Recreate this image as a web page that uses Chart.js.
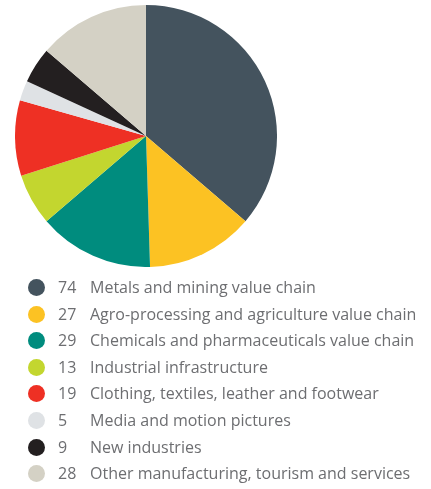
<!DOCTYPE html>
<html>
<head>
<meta charset="utf-8">
<script src="https://cdn.jsdelivr.net/npm/chart.js@4"></script>
<style>
  html, body { margin: 0; padding: 0; background: #fff; }
  #wrap { position: relative; width: 431px; height: 489px; overflow: hidden; }
  #pieBox { position: absolute; left: 15px; top: 5px; width: 262px; height: 262px; }
  #legend { position: absolute; left: 0; top: 0; width: 431px; height: 489px; }
  .row { position: absolute; left: 0; height: 20px; font-family: "Open Sans", sans-serif; font-size: 16px; color: #6d6e71; white-space: nowrap; }
  .dot { position: absolute; left: 28px; top: 2px; width: 17px; height: 17px; border-radius: 50%; }
  .num { position: absolute; left: 58px; top: 0; line-height: 20px; }
  .lbl { position: absolute; left: 90px; top: 0; line-height: 20px; }
</style>
</head>
<body>
<div id="wrap">
  <div id="pieBox"><canvas id="pieChart"></canvas></div>
  <div id="legend"></div>
</div>
<script>
// sectors, counts and colours
const sectors = [
  "Metals and mining value chain",
  "Agro-processing and agriculture value chain",
  "Chemicals and pharmaceuticals value chain",
  "Industrial infrastructure",
  "Clothing, textiles, leather and footwear",
  "Media and motion pictures",
  "New industries",
  "Other manufacturing, tourism and services",
];
const counts = [74, 27, 29, 13, 19, 5, 9, 28];
const colours = ["#44535e", "#fcc223", "#008c7e", "#c3d62f", "#ee3024", "#dfe2e5", "#231f20", "#d4d1c5"];

// ================= PIE =================
new Chart(document.getElementById("pieChart"), {
  type: "pie",
  data: {
    labels: sectors,
    datasets: [
      {
        data: counts,
        backgroundColor: colours,
        borderWidth: 0,
      },
    ],
  },
  options: {
    responsive: true,
    maintainAspectRatio: false,
    animation: false,
    plugins: {
      legend: { display: false },
      tooltip: { enabled: false },
    },
  },
});

// ================= LEGEND =================
const legend = document.getElementById("legend");
sectors.forEach((name, i) => {
  const row = document.createElement("div");
  row.className = "row";
  row.style.top = (277 + i * 26.6) + "px";
  row.innerHTML =
    '<span class="dot" style="background:' + colours[i] + '"></span>' +
    '<span class="num">' + counts[i] + '</span>' +
    '<span class="lbl">' + name + '</span>';
  legend.appendChild(row);
});
</script>
</body>
</html>
